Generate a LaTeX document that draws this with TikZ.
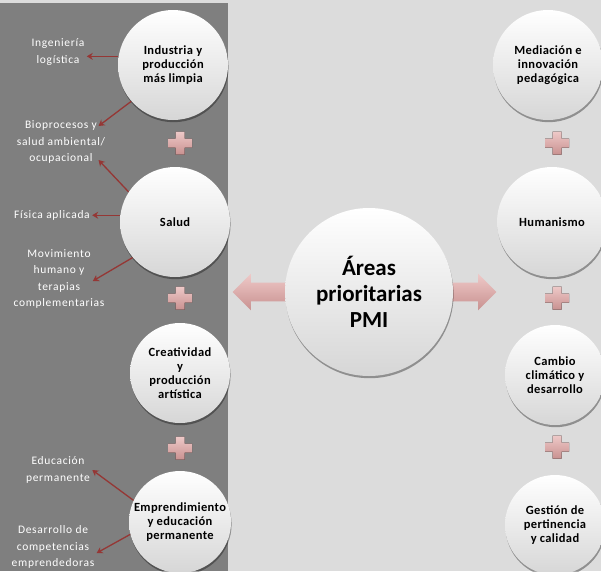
\documentclass[tikz,border=0pt]{standalone}
\usepackage{fontspec}
\setmainfont{Carlito}
\usepackage{tikz}
\usetikzlibrary{positioning, calc, arrows.meta, shapes.arrows, shadows}

\definecolor{bggray}{HTML}{DCDCDC}
\definecolor{panelgray}{HTML}{7F7F7F}
\definecolor{linkred}{HTML}{953735}
\definecolor{pinklight}{HTML}{EEC9C8}
\definecolor{pinkdark}{HTML}{C99190}

\begin{document}
\begin{tikzpicture}[x=1pt, y=-1pt, thick, >={Stealth[length=6pt,width=7pt]}, font=\small]

    % Custom styles for the circles, side labels and links
    \tikzset{
        area/.style={
            circle, draw=none, top color=white, bottom color=black!16,
            align=center, inner sep=0pt, text=black,
            font=\fontsize{12.5}{14}\selectfont\bfseries\addfontfeature{LetterSpace=3},
            drop shadow={shadow xshift=0.6pt, shadow yshift=-2.2pt, opacity=0.35, fill=black}
        },
        sublabel/.style={
            text=white, align=center, inner sep=2pt,
            font=\fontsize{11.5}{16.5}\selectfont\addfontfeature{LetterSpace=6}
        },
        link/.style={->, linkred, line width=1.3pt},
        blockarrow/.style={
            single arrow, draw=none, inner xsep=0pt, inner ysep=9pt,
            single arrow head extend=9pt, single arrow head indent=0pt,
            minimum height=66pt,
            top color=pinklight, bottom color=pinkdark
        },
        plussign/.pic={
            \fill[top color=pinklight, bottom color=pinkdark]
                (-4.5,-11.5) -- (4.5,-11.5) -- (4.5,-4.5) -- (12,-4.5) -- (12,4.5)
                -- (4.5,4.5) -- (4.5,11.5) -- (-4.5,11.5) -- (-4.5,4.5) -- (-12,4.5)
                -- (-12,-4.5) -- (-4.5,-4.5) -- cycle;
        }
    }

    \useasboundingbox (0,0) rectangle (601,571);

    % ==========================================
    % Background and left panel
    % ==========================================
    \fill[bggray] (0,0) rectangle (601,571);
    \fill[panelgray] (0,3) rectangle (228,571);

    % ==========================================
    % Central circle with its two block arrows
    % ==========================================
    \node[blockarrow, shape border rotate=180, anchor=tip] (larr) at (232,292) {};
    \node[blockarrow, anchor=tip] (rarr) at (497,292) {};
    \node[area, minimum size=168pt, font=\fontsize{23}{26}\selectfont\bfseries] (pmi) at (369,292)
        {Áreas\\prioritarias\\PMI};

    % ==========================================
    % Left column
    % ==========================================
    \node[area, minimum size=110pt] (ind) at (173,65) {Industria y\\producción\\más limpia};
    \node[area, minimum size=110pt] (salud) at (175,222) {Salud};
    \node[area, minimum size=100pt] (crea) at (180,373) {Creatividad\\y\\producción\\artística};
    \node[area, minimum size=102pt] (emp) at (180,522) {Emprendimiento\\y educación\\permanente};

    \pic at (180,143) {plussign};
    \pic at (180,298) {plussign};
    \pic at (180,448) {plussign};

    % Side labels
    \node[sublabel] (ing) at (58,52) {Ingeniería\\logística};
    \node[sublabel] (bio) at (61,142) {Bioprocesos y\\salud ambiental/\\ocupacional};
    \node[sublabel] (fis) at (52,215) {Física aplicada};
    \node[sublabel] (mov) at (59,279) {Movimiento\\humano y\\terapias\\complementarias};
    \node[sublabel] (edu) at (58,470) {Educación\\permanente};
    \node[sublabel] (des) at (53,547) {Desarrollo de\\competencias\\emprendedoras};

    % Links
    \draw[link] (ind.171) -- (ind.171 -| ing.east);
    \draw[link] (ind.221) -- ([xshift=-9pt, yshift=16pt]bio.east);
    \draw[link] (salud.147) -- ([xshift=-9pt, yshift=-18pt]bio.east);
    \draw[link] (salud.173) -- (salud.173 -| fis.east);
    \draw[link] (salud.220) -- ([xshift=-14pt, yshift=-2pt]mov.east);
    \draw[link] (emp.155) -- (edu.east);
    \draw[link] (emp.194) -- ([yshift=-6pt]des.east);

    % ==========================================
    % Right column
    % ==========================================
    \node[area, minimum size=110pt] (med) at (548,65) {Mediación e\\innovación\\pedagógica};
    \node[area, minimum size=110pt] (hum) at (552,222) {Humanismo};
    \node[area, minimum size=100pt] (cam) at (555,375) {Cambio\\climático y\\desarrollo};
    \node[area, minimum size=100pt] (ges) at (555,525) {Gestión de\\pertinencia\\y calidad};

    \pic at (557,143) {plussign};
    \pic at (557,298) {plussign};
    \pic at (557,447) {plussign};

\end{tikzpicture}
\end{document}
